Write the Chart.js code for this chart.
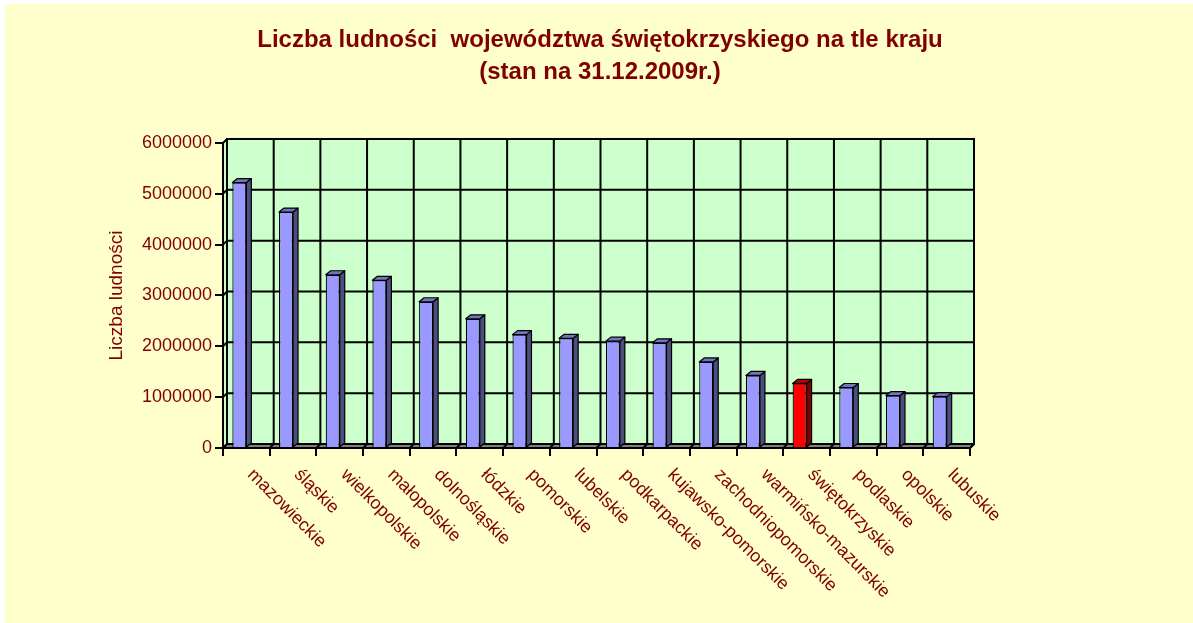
<!DOCTYPE html>
<html lang="pl">
<head>
<meta charset="utf-8">
<title>Liczba ludności województw</title>
<script src="https://cdn.jsdelivr.net/npm/chart.js@4/dist/chart.umd.min.js"></script>
<style>
  html, body { margin: 0; padding: 0; background: #fff; }
  #ludnoscChart { display: block; }
</style>
</head>
<body>
<canvas id="ludnoscChart" width="1193" height="623"></canvas>
<script>
// Dane: ludność województw, stan na 31.12.2009
const wojewodztwa = [
    'mazowieckie', 'śląskie', 'wielkopolskie', 'małopolskie',
    'dolnośląskie', 'łódzkie', 'pomorskie', 'lubelskie',
    'podkarpackie', 'kujawsko-pomorskie', 'zachodniopomorskie', 'warmińsko-mazurskie',
    'świętokrzyskie', 'podlaskie', 'opolskie', 'lubuskie'
];
const ludnosc = [
    5222167, 4640725, 3408281, 3298270,
    2876627, 2541832, 2230099, 2157202,
    2101732, 2069083, 1693198, 1427241,
    1270120, 1189731, 1031097, 1010047
];
const wyrozniony = 'świętokrzyskie';
const osY = { min: 0, max: 6000000, krok: 1000000 };

const CIEMNOCZERWONY = '#800000';
const FONT = 'Arial, "Liberation Sans", sans-serif';

// kolory ścian słupka: przód, bok, góra
const KOLOR = { front: '#9999FF', side: '#4D4D80', top: '#7373BF' };
const KOLOR_WYR = { front: '#FF0000', side: '#800000', top: '#BF0000' };

const GLEBIA_SCIANY = { dx: 4, dy: -4 };
const GLEBIA_SLUPKA = { dx: 5, dy: -4 };
const PRZESUNIECIE_SLUPKA = -7;

const kolorySlupkow = wojewodztwa.map(w => (w === wyrozniony ? KOLOR_WYR : KOLOR));

// tło wykresu
const tlo = {
    id: 'tlo',
    beforeDraw(chart) {
        const { ctx, width, height } = chart;
        ctx.save();
        ctx.fillStyle = '#FFFFFF';
        ctx.fillRect(0, 0, width, height);
        ctx.fillStyle = '#FFFFCC';
        ctx.fillRect(5, 4, width - 5, height - 4);
        ctx.restore();
    }
};

// ściany i podłoga 3D oraz boczne ścianki słupków
const efekt3d = {
    id: 'efekt3d',
    beforeDatasetsDraw(chart) {
        const { ctx, chartArea: a, scales: { x, y } } = chart;
        const { dx, dy } = GLEBIA_SCIANY;
        const w = a.right - a.left;
        const h = a.bottom - a.top;

        ctx.save();
        ctx.fillStyle = '#CCFFCC';
        ctx.fillRect(a.left + dx, a.top + dy, w, h);

        // lewa ściana
        ctx.beginPath();
        ctx.moveTo(a.left, a.top);
        ctx.lineTo(a.left + dx, a.top + dy);
        ctx.lineTo(a.left + dx, a.bottom + dy);
        ctx.lineTo(a.left, a.bottom);
        ctx.closePath();
        ctx.fill();

        // podłoga
        ctx.fillStyle = '#808080';
        ctx.beginPath();
        ctx.moveTo(a.left, a.bottom);
        ctx.lineTo(a.right, a.bottom);
        ctx.lineTo(a.right + dx, a.bottom + dy);
        ctx.lineTo(a.left + dx, a.bottom + dy);
        ctx.closePath();
        ctx.fill();

        ctx.strokeStyle = '#000000';
        ctx.lineWidth = 2;

        // poziome linie siatki
        y.ticks.forEach(t => {
            const py = y.getPixelForValue(t.value);
            ctx.beginPath();
            ctx.moveTo(a.left, py);
            ctx.lineTo(a.left + dx, py + dy);
            ctx.lineTo(a.right + dx, py + dy);
            ctx.stroke();
        });

        // pionowe linie między kategoriami
        for (let i = 0; i <= wojewodztwa.length; i++) {
            const px = x.getPixelForValue(i - 0.5);
            ctx.beginPath();
            ctx.moveTo(px, a.bottom);
            ctx.lineTo(px + dx, a.bottom + dy);
            ctx.lineTo(px + dx, a.top + dy);
            ctx.stroke();
        }

        // krawędzie
        ctx.strokeRect(a.left + dx, a.top + dy, w, h);
        ctx.beginPath();
        ctx.moveTo(a.left, a.top);
        ctx.lineTo(a.left, a.bottom);
        ctx.lineTo(a.right, a.bottom);
        ctx.lineTo(a.right + dx, a.bottom + dy);
        ctx.stroke();
        ctx.restore();

        ctx.save();
        ctx.translate(PRZESUNIECIE_SLUPKA, 0);
    },
    afterDatasetsDraw(chart) {
        const { ctx } = chart;
        const { dx, dy } = GLEBIA_SLUPKA;
        const meta = chart.getDatasetMeta(0);

        ctx.lineWidth = 1.2;
        ctx.strokeStyle = '#000000';
        ctx.lineJoin = 'round';
        meta.data.forEach((bar, i) => {
            const { x, y, base, width } = bar.getProps(['x', 'y', 'base', 'width'], true);
            const l = x - width / 2;
            const r = x + width / 2;
            const kolor = kolorySlupkow[i];

            // bok
            ctx.beginPath();
            ctx.moveTo(r, y);
            ctx.lineTo(r + dx, y + dy);
            ctx.lineTo(r + dx, base + dy);
            ctx.lineTo(r, base);
            ctx.closePath();
            ctx.fillStyle = kolor.side;
            ctx.fill();
            ctx.stroke();

            // góra
            ctx.beginPath();
            ctx.moveTo(l, y);
            ctx.lineTo(l + dx, y + dy);
            ctx.lineTo(r + dx, y + dy);
            ctx.lineTo(r, y);
            ctx.closePath();
            ctx.fillStyle = kolor.top;
            ctx.fill();
            ctx.stroke();
        });
        ctx.restore();
    }
};

// ukośne etykiety województw pod osią
const etykietyX = {
    id: 'etykietyX',
    afterDraw(chart) {
        const { ctx, chartArea: a, scales: { x } } = chart;
        ctx.save();
        ctx.fillStyle = CIEMNOCZERWONY;
        ctx.font = '18px ' + FONT;
        ctx.textAlign = 'left';
        ctx.textBaseline = 'middle';
        wojewodztwa.forEach((nazwa, i) => {
            const px = x.getPixelForValue(i);
            ctx.save();
            ctx.translate(px + 4, a.bottom + 24);
            ctx.rotate(Math.PI / 4);
            ctx.fillText(nazwa, 0, 0);
            ctx.restore();
        });
        ctx.restore();
    }
};

const ctx = document.getElementById('ludnoscChart').getContext('2d');

const chart = new Chart(ctx, {
    type: 'bar',
    data: {
        labels: wojewodztwa,
        datasets: [{
            label: 'Liczba ludności',
            data: ludnosc,
            backgroundColor: kolorySlupkow.map(k => k.front),
            borderColor: '#000000',
            borderWidth: 1.2,
            categoryPercentage: 1,
            barPercentage: 0.3
        }]
    },
    options: {
        responsive: false,
        animation: false,
        layout: {
            padding: { left: 7, right: 0, top: 0, bottom: 0 }
        },
        plugins: {
            legend: { display: false },
            tooltip: { enabled: false },
            title: {
                display: true,
                text: [
                    'Liczba ludności  województwa świętokrzyskiego na tle kraju',
                    '(stan na 31.12.2009r.)'
                ],
                color: CIEMNOCZERWONY,
                font: {
                    family: FONT,
                    size: 24,
                    weight: 'bold',
                    lineHeight: 1.333
                },
                padding: { top: 24, bottom: 55 }
            }
        },
        scales: {
            x: {
                offset: true,
                grid: {
                    offset: true,
                    drawOnChartArea: false,
                    drawTicks: true,
                    tickLength: 8,
                    color: '#000000',
                    lineWidth: 2
                },
                border: { display: false },
                ticks: { display: false },
                afterFit(scale) { scale.height = 175; }
            },
            y: {
                min: osY.min,
                max: osY.max,
                grid: {
                    drawOnChartArea: false,
                    drawTicks: true,
                    tickLength: 8,
                    color: '#000000',
                    lineWidth: 2
                },
                border: { display: false },
                ticks: {
                    stepSize: osY.krok,
                    color: CIEMNOCZERWONY,
                    padding: 3,
                    font: { family: FONT, size: 18 },
                    callback: value => String(value)
                },
                title: {
                    display: true,
                    text: 'Liczba ludności',
                    color: CIEMNOCZERWONY,
                    font: { family: FONT, size: 19 },
                    padding: { top: 98, bottom: 0 }
                },
                afterFit(scale) { scale.width = 216; }
            },
            // pusty margines po prawej stronie obszaru wykresu
            margines: {
                type: 'linear',
                position: 'right',
                grid: { display: false },
                border: { display: false },
                ticks: { display: false },
                afterFit(scale) { scale.width = 223; }
            }
        }
    },
    plugins: [tlo, efekt3d, etykietyX]
});
</script>
</body>
</html>
